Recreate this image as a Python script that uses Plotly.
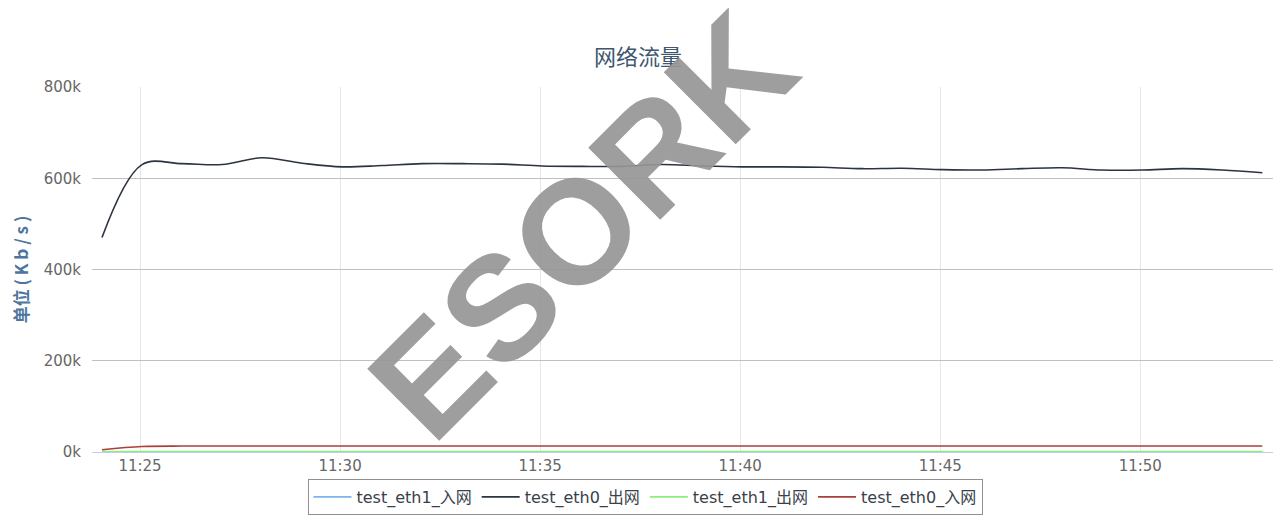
import plotly.graph_objects as go

times = ["2020-01-01 11:%02d:03" % m for m in range(24, 54)]
eth0_out = [470, 630, 632, 630, 645, 633, 625, 628, 632, 632, 631, 627, 626, 626, 630,
            627, 625, 625, 624, 621, 622, 619, 618, 621, 623, 618, 618, 621, 618, 612]
eth0_in = [5, 12, 13, 13, 13, 13, 13, 13, 13, 13, 13, 13, 13, 13, 13,
           13, 13, 13, 13, 13, 13, 13, 13, 13, 13, 13, 13, 13, 13, 13]
eth1_out = [1] * 30
eth1_in = [0.3] * 30
y_ticks = [0, 200000, 400000, 600000, 800000]
y_labels = ["0k", "200k", "400k", "600k", "800k"]

series = [
    ("test_eth1_入网", [v * 1000 for v in eth1_in], "#7cb5ec"),
    ("test_eth0_出网", [v * 1000 for v in eth0_out], "#2b3440"),
    ("test_eth1_出网", [v * 1000 for v in eth1_out], "#90ed7d"),
    ("test_eth0_入网", [v * 1000 for v in eth0_in], "#a8403c"),
]

fig = go.Figure()
for name, vals, col in series:
    fig.add_trace(go.Scatter(x=times, y=vals, name=name, mode="lines",
                             line=dict(color=col, width=1.6, shape="spline")))

W, H = 1273, 514
fig.update_layout(
    width=W, height=H,
    margin=dict(l=84, r=6, t=79, b=70),
    paper_bgcolor="white", plot_bgcolor="white",
    font=dict(family="DejaVu Sans, sans-serif", color="#666666", size=15),
    title=dict(text="网络流量", x=(638 - 8) / W, xanchor="center", y=1 - 49 / H, yanchor="middle",
               font=dict(family="Noto Sans CJK SC", size=22, color="#3e576f")),
    showlegend=True,
    legend=dict(orientation="h", x=(645 - 92) / 1183, xanchor="center",
                y=-0.074, yanchor="top",
                bordercolor="#909090", borderwidth=1,
                font=dict(family="DejaVu Sans, Noto Sans CJK SC", size=16, color="#3a3f4a"),
                tracegroupgap=0, itemwidth=38),
    xaxis=dict(type="date", range=["2020-01-01 11:23:48", "2020-01-01 11:53:22"],
               tickformat="%H:%M", dtick=300000, tick0="2020-01-01 11:25:00",
               showgrid=True, gridcolor="#e6e6e6", gridwidth=1,
               showline=True, linecolor="#c0d0e0", ticks="", zeroline=False,
               tickfont=dict(size=15, color="#666666")),
    yaxis=dict(range=[0, 800000], tickvals=y_ticks, ticktext=y_labels,
               showgrid=True, gridcolor="#c0c0c0", gridwidth=1, zeroline=False,
               ticks="", ticklabelstandoff=10,
               title=dict(text="<b>单位 ( K b / s )</b>", standoff=14,
                          font=dict(family="Noto Sans CJK SC", size=17, color="#4d759e")),
               tickfont=dict(size=15, color="#666666")),
)

fig.add_annotation(text="<b>ESORK</b>", x=0.414, y=0.62, xref="paper", yref="paper",
                   showarrow=False, textangle=-45,
                   font=dict(family="Liberation Sans, Arial", size=148, color="rgba(150,150,150,0.92)"))

fig.write_html("out.html")
